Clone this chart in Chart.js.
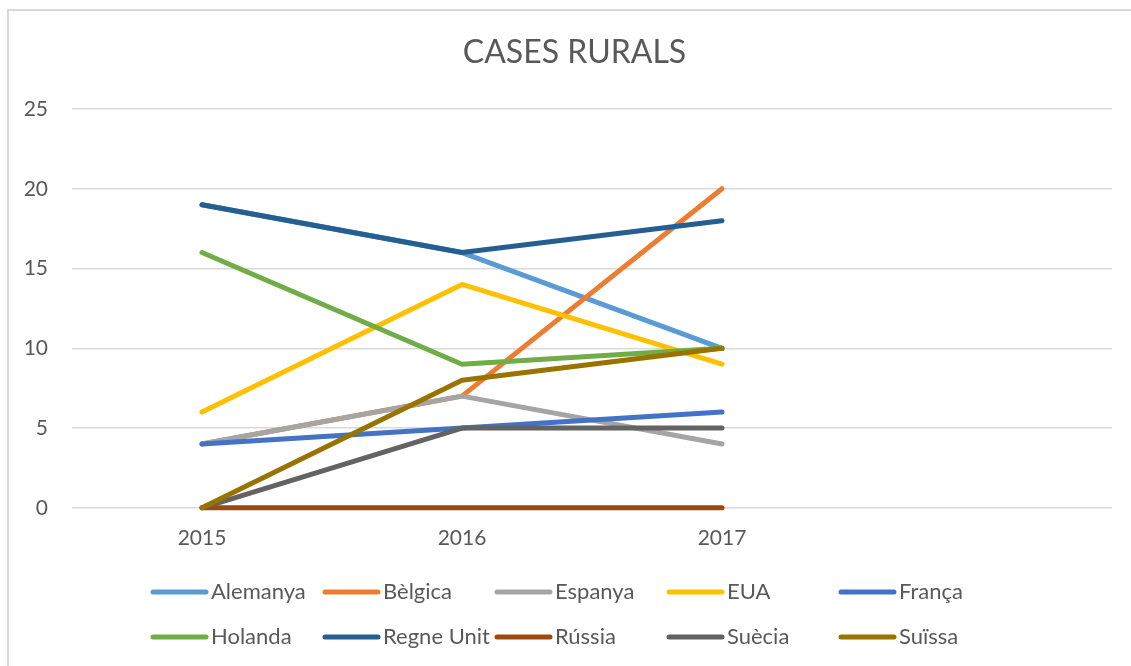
<!DOCTYPE html>
<html>
<head>
<meta charset="utf-8">
<script src="https://cdn.jsdelivr.net/npm/chart.js@4.4.1/dist/chart.umd.min.js"></script>
<style>
  body { margin: 0; background: #fff; }
  #wrap { width: 1131px; height: 666px; }
</style>
</head>
<body>
<div id="wrap"><canvas id="myChart" width="1131" height="666"></canvas></div>
<script>
// data
const years = ['2015', '2016', '2017', ''];
const countries = ['Alemanya', 'Bèlgica', 'Espanya', 'EUA', 'França',
                   'Holanda', 'Regne Unit', 'Rússia', 'Suècia', 'Suïssa'];
const alemanya  = [19, 16, 10];
const belgica   = [4, 7, 20];
const espanya   = [4, 7, 4];
const eua       = [6, 14, 9];
const franca    = [4, 5, 6];
const holanda   = [16, 9, 10];
const regneUnit = [19, 16, 18];
const russia    = [0, 0, 0];
const suecia    = [0, 5, 5];
const suissa    = [0, 8, 10];
const yTicks    = [0, 5, 10, 15, 20, 25];
const titleText = 'CASES RURALS';

const seriesValues = [alemanya, belgica, espanya, eua, franca, holanda, regneUnit, russia, suecia, suissa];
const colors = ['#5B9BD5', '#ED7D31', '#A5A5A5', '#FFC000', '#4472C4',
                '#70AD47', '#255E91', '#9E480E', '#636363', '#997300'];

const FONT = 'Lato, "Open Sans", sans-serif';
const TXT = '#595959';

// outer frame like the office chart box, plus the title
// (the box runs past the right edge, so the title sits right of canvas centre)
const frame = {
  id: 'frame',
  beforeDraw(chart) {
    const c = chart.ctx;
    c.save();
    c.strokeStyle = '#D9D9D9';
    c.lineWidth = 2;
    c.strokeRect(8, 10, 2000, 2000);
    c.font = '32px ' + FONT;
    c.fillStyle = TXT;
    c.textAlign = 'center';
    c.textBaseline = 'middle';
    c.fillText(titleText, 574.5, 53);
    c.restore();
  }
};

// legend laid out in a 5 column grid
const gridLegend = {
  id: 'gridLegend',
  afterDraw(chart) {
    const c = chart.ctx;
    c.save();
    c.font = '22px ' + FONT;
    c.textBaseline = 'middle';
    c.fillStyle = TXT;
    c.lineCap = 'round';
    c.lineWidth = 5;
    chart.data.datasets.forEach(function (ds, i) {
      const x = 151 + (i % 5) * 172;
      const y = 592 + Math.floor(i / 5) * 45;
      c.strokeStyle = ds.borderColor;
      c.beginPath();
      c.moveTo(x + 2, y);
      c.lineTo(x + 55, y);
      c.stroke();
      c.fillText(ds.label, x + 60, y);
    });
    c.restore();
  }
};

const ctx = document.getElementById('myChart').getContext('2d');

const chart = new Chart(ctx, {
  type: 'line',
  data: {
    labels: years,
    datasets: countries.map(function (name, i) {
      return {
        label: name,
        data: seriesValues[i],
        borderColor: colors[i],
        backgroundColor: colors[i],
        borderWidth: 5,
        borderCapStyle: 'round',
        borderJoinStyle: 'round',
        pointRadius: 0,
        tension: 0,
        clip: false,
        order: 20 - i   // later series drawn on top, like excel
      };
    })
  },
  options: {
    responsive: false,
    animation: false,
    layout: {
      padding: { left: 0, right: 19, top: 109, bottom: 105 }
    },
    plugins: {
      legend: { display: false },
      tooltip: { enabled: false },
      title: { display: false }
    },
    scales: {
      x: {
        offset: true,
        grid: { display: false },
        border: { display: false },
        ticks: {
          color: TXT,
          padding: 10,
          maxRotation: 0,
          font: { family: FONT, size: 21 }
        }
      },
      y: {
        min: 0,
        max: 25,
        afterFit: function (scale) { scale.width = 72; },
        afterBuildTicks: function (scale) {
          scale.ticks = yTicks.map(function (v) { return { value: v }; });
        },
        grid: { color: '#D9D9D9', lineWidth: 1.5, drawTicks: false },
        border: { display: false },
        ticks: {
          color: TXT,
          padding: 24,
          font: { family: FONT, size: 21 }
        }
      }
    }
  },
  plugins: [frame, gridLegend]
});
</script>
</body>
</html>
